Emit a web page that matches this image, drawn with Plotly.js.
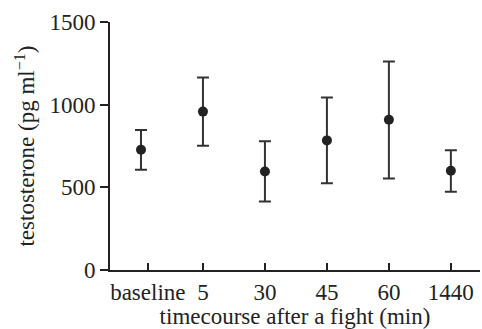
<!DOCTYPE html>
<html>
<head>
<meta charset="utf-8">
<script src="https://cdn.plot.ly/plotly-3.0.1.min.js"></script>
<style>html,body{margin:0;padding:0;background:#fff;}#chart{width:482px;height:329px;}</style>
</head>
<body>
<div id="chart"></div>
<script>
// Data
var categories = ['baseline', '5', '30', '45', '60', '1440'];
var meanValues = [727, 958, 596, 784, 909, 600];
var upperValues = [847, 1164, 778, 1044, 1261, 725];
var lowerValues = [606, 752, 414, 525, 553, 473];
var yTickValues = [0, 500, 1000, 1500];

var xIdx = categories.map(function (c, i) { return i; });
var errPlus = upperValues.map(function (u, i) { return u - meanValues[i]; });
var errMinus = lowerValues.map(function (l, i) { return meanValues[i] - l; });
// the baseline tick/label in the reference sits slightly right of its point
var xTickVals = xIdx.map(function (i) { return i === 0 ? i + 0.11 : i; });

var ink = '#222222';
var trace = {
  type: 'scatter',
  mode: 'markers',
  x: xIdx,
  y: meanValues,
  marker: { size: 10, color: ink },
  error_y: {
    type: 'data', symmetric: false,
    array: errPlus, arrayminus: errMinus,
    color: '#333333', thickness: 2, width: 6
  },
  hoverinfo: 'none',
  showlegend: false
};

var font = { family: 'Liberation Serif', size: 23, color: ink };

var layout = {
  width: 482, height: 329,
  margin: { l: 110, r: 2, t: 22, b: 59 },
  paper_bgcolor: '#ffffff', plot_bgcolor: '#ffffff',
  font: font,
  showlegend: false,
  xaxis: {
    range: [-0.5, 5.47],
    tickmode: 'array', tickvals: xTickVals, ticktext: categories,
    ticks: 'inside', ticklen: 7, tickwidth: 2, tickcolor: ink,
    showline: true, linewidth: 2, linecolor: ink,
    showgrid: false, zeroline: false,
    tickfont: font,
    title: { text: 'timecourse after a fight (min)', font: font, standoff: 2 }
  },
  yaxis: {
    range: [0, 1500],
    tickmode: 'array', tickvals: yTickValues,
    ticks: 'outside', ticklen: 8, tickwidth: 2, tickcolor: ink,
    showline: true, linewidth: 2, linecolor: ink,
    showgrid: false, zeroline: false,
    tickfont: font,
    title: { text: 'testosterone (pg ml<sup>−1</sup>)', font: font, standoff: 8 }
  }
};

Plotly.newPlot('chart', [trace], layout, { staticPlot: true, displayModeBar: false });
</script>
</body>
</html>
